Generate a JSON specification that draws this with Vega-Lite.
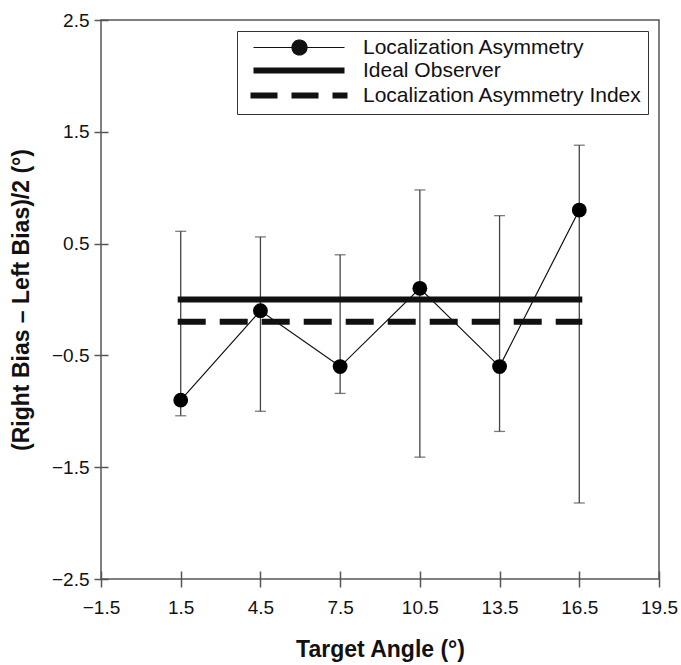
{
  "$schema": "https://vega.github.io/schema/vega-lite/v6.json",
  "width": 558,
  "height": 559,
  "autosize": {"type": "none"},
  "padding": {"left": 101, "top": 20, "right": 22, "bottom": 86},
  "background": "white",
  "config": {
    "view": {"stroke": "#555", "strokeWidth": 1.5},
    "font": "Liberation Sans",
    "axis": {
      "grid": false,
      "domain": false,
      "tickColor": "#555",
      "tickWidth": 1.5,
      "labelFont": "Liberation Sans",
      "labelFontSize": 19,
      "labelColor": "#111",
      "titleFont": "Liberation Sans",
      "titleFontSize": 23,
      "titleFontWeight": "bold",
      "titleColor": "#111",
      "labelFlush": false,
      "labelOverlap": false
    }
  },
  "datasets": {
    "asym": [
      {"series": "Localization Asymmetry", "x": 1.5, "y": -0.9, "lo": -1.04, "hi": 0.61},
      {"series": "Localization Asymmetry", "x": 4.5, "y": -0.1, "lo": -1.0, "hi": 0.56},
      {"series": "Localization Asymmetry", "x": 7.5, "y": -0.6, "lo": -0.84, "hi": 0.4},
      {"series": "Localization Asymmetry", "x": 10.5, "y": 0.1, "lo": -1.41, "hi": 0.98},
      {"series": "Localization Asymmetry", "x": 13.5, "y": -0.6, "lo": -1.18, "hi": 0.75},
      {"series": "Localization Asymmetry", "x": 16.5, "y": 0.8, "lo": -1.82, "hi": 1.38}
    ],
    "ideal": [
      {"series": "Ideal Observer", "x": 1.5, "y": 0},
      {"series": "Ideal Observer", "x": 16.5, "y": 0}
    ],
    "lai": [
      {"series": "Localization Asymmetry Index", "x": 1.5, "y": -0.2},
      {"series": "Localization Asymmetry Index", "x": 16.5, "y": -0.2}
    ]
  },
  "encoding": {
    "x": {
      "field": "x",
      "type": "quantitative",
      "scale": {"domain": [-1.5, 19.5], "nice": false, "zero": false},
      "axis": {
        "title": "Target Angle (°)",
        "values": [-1.5, 1.5, 4.5, 7.5, 10.5, 13.5, 16.5, 19.5],
        "format": ".1f",
        "offset": -8,
        "tickSize": 16,
        "labelPadding": 11,
        "titlePadding": 21
      }
    },
    "y": {
      "field": "y",
      "type": "quantitative",
      "scale": {"domain": [-2.5, 2.5], "nice": false, "zero": false},
      "axis": {
        "title": "(Right Bias – Left Bias)/2 (°)",
        "values": [-2.5, -1.5, -0.5, 0.5, 1.5, 2.5],
        "format": ".1f",
        "offset": -7,
        "tickSize": 14,
        "labelPadding": 5,
        "titlePadding": 18
      }
    }
  },
  "layer": [
    {
      "data": {"name": "asym"},
      "mark": {
        "type": "errorbar",
        "ticks": {"size": 11, "thickness": 1.3, "color": "#444"},
        "rule": {"strokeWidth": 1.3, "color": "#444"}
      },
      "encoding": {
        "y": {
          "field": "lo",
          "type": "quantitative",
          "scale": {"domain": [-2.5, 2.5], "nice": false, "zero": false},
          "axis": {
            "title": "(Right Bias – Left Bias)/2 (°)",
            "values": [-2.5, -1.5, -0.5, 0.5, 1.5, 2.5],
            "format": ".1f",
            "offset": -7,
            "tickSize": 14,
            "labelPadding": 5,
            "titlePadding": 18
          }
        },
        "y2": {"field": "hi"}
      }
    },
    {
      "data": {"name": "ideal"},
      "mark": {"type": "line", "strokeWidth": 6, "strokeCap": "square"},
      "encoding": {
        "color": {
          "field": "series",
          "type": "nominal",
          "scale": {
            "domain": ["Localization Asymmetry", "Ideal Observer", "Localization Asymmetry Index"],
            "range": ["#111", "#111", "#111"]
          },
          "legend": {
            "title": null,
            "orient": "top-right",
            "offset": 11,
            "padding": 6,
            "strokeColor": "#333",
            "fillColor": "white",
            "labelFont": "Liberation Sans",
            "labelFontSize": 21,
            "labelColor": "#111",
            "labelLimit": 0,
            "symbolSize": 100,
            "symbolType": "stroke",
            "labelOffset": 99,
            "rowPadding": 0,
            "encode": {
              "symbols": {
                "update": {
                  "shape": {"signal": "datum.value === 'Localization Asymmetry' ? 'M0,0H18.2M10.7,0A1.5,1.5 0 1,1 7.7,0A1.5,1.5 0 1,1 10.7,0Z' : 'M0,0H18.2'"},
                  "size": {"value": 100},
                  "stroke": {"value": "#111"},
                  "fill": {"value": "#111"},
                  "fillOpacity": {"value": 1},
                  "strokeOpacity": {"value": 1},
                  "opacity": {"value": 1},
                  "strokeWidth": {"signal": "datum.value === 'Localization Asymmetry' ? 1.2 : 6"},
                  "strokeDash": {"signal": "datum.value === 'Localization Asymmetry Index' ? [21, 20] : [1, 0]"},
                  "strokeCap": {"signal": "datum.value === 'Localization Asymmetry Index' ? 'square' : 'butt'"}
                }
              }
            }
          }
        }
      }
    },
    {
      "data": {"name": "lai"},
      "mark": {"type": "line", "strokeWidth": 6, "strokeCap": "square", "strokeDash": [22, 20]},
      "encoding": {
        "color": {"field": "series", "type": "nominal"}
      }
    },
    {
      "data": {"name": "asym"},
      "mark": {"type": "line", "strokeWidth": 1.2},
      "encoding": {
        "color": {"field": "series", "type": "nominal"}
      }
    },
    {
      "data": {"name": "asym"},
      "mark": {"type": "circle", "size": 220, "color": "#000", "opacity": 1}
    }
  ]
}
